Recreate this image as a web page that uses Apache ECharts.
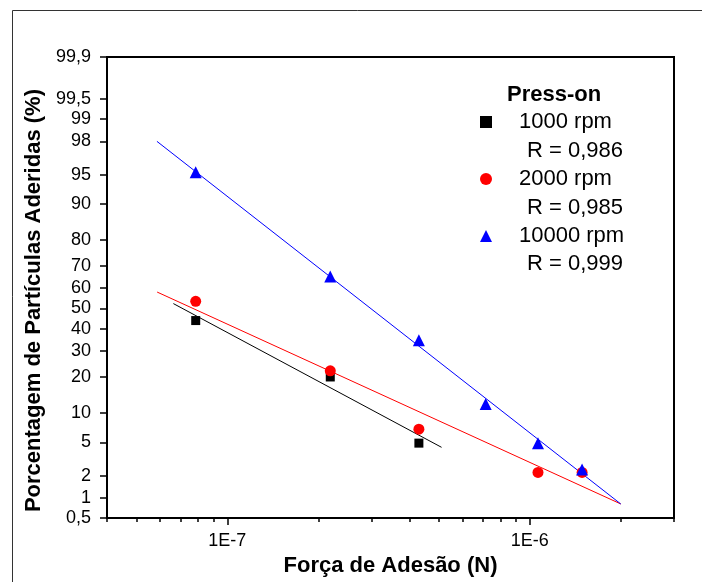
<!DOCTYPE html>
<html>
<head>
<meta charset="utf-8">
<script src="https://cdn.jsdelivr.net/npm/echarts@6/dist/echarts.min.js"></script>
<style>
  html, body { margin: 0; padding: 0; background: #fff; }
  #chart { width: 702px; height: 582px; }
</style>
</head>
<body>
<div id="chart"></div>
<script>
// Adhesion force (N) against percentage of adhered particles (%), press-on method
const force1000 = [7.86e-8, 2.19e-7, 4.30e-7];
const pct1000 = [44.1, 20.0, 4.9];
const force2000 = [7.86e-8, 2.19e-7, 4.30e-7, 1.065e-6, 1.49e-6];
const pct2000 = [53.5, 22.2, 6.9, 2.2, 2.2];
const force10000 = [7.86e-8, 2.19e-7, 4.30e-7, 7.15e-7, 1.065e-6, 1.49e-6];
const pct10000 = [95.3, 65.3, 34.8, 12.0, 4.9, 2.4];

// Fitted lines, end points
const fitForce1000 = [6.63e-8, 5.11e-7];
const fitPct1000 = [52.4, 4.4];
const fitForce2000 = [5.86e-8, 2.0e-6];
const fitPct2000 = [58.0, 0.815];
const fitForce10000 = [5.85e-8, 2.0e-6];
const fitPct10000 = [98.0, 0.815];

const seriesNames = ['1000 rpm', '2000 rpm', '10000 rpm'];
const rTexts = ['R = 0,986', 'R = 0,985', 'R = 0,999'];

const yTickValues = [0.5, 1, 2, 5, 10, 20, 30, 40, 50, 60, 70, 80, 90, 95, 98, 99, 99.5, 99.9];
const yTickLabels = ['0,5', '1', '2', '5', '10', '20', '30', '40', '50', '60', '70', '80', '90', '95', '98', '99', '99,5', '99,9'];
const xMajorTicks = [1e-7, 1e-6];
const xMinorTicks = [4e-8, 5e-8, 6e-8, 7e-8, 8e-8, 9e-8,
  2e-7, 3e-7, 4e-7, 5e-7, 6e-7, 7e-7, 8e-7, 9e-7, 2e-6, 3e-6];

// Inverse standard normal CDF (Acklam) for the probability axis
function probit(p) {
  const a = [-3.969683028665376e+01, 2.209460984245205e+02, -2.759285104469687e+02,
    1.383577518672690e+02, -3.066479806614716e+01, 2.506628277459239e+00];
  const b = [-5.447609879822406e+01, 1.615858368580409e+02, -1.556989798598866e+02,
    6.680131188771972e+01, -1.328068155288572e+01];
  const c = [-7.784894002430293e-03, -3.223964580411365e-01, -2.400758277161838e+00,
    -2.549732539343734e+00, 4.374664141464968e+00, 2.938163982698783e+00];
  const d = [7.784695709041462e-03, 3.224671290700398e-01, 2.445134137142996e+00,
    3.754408661907416e+00];
  const pl = 0.02425, ph = 1 - pl;
  let q, r;
  if (p < pl) {
    q = Math.sqrt(-2 * Math.log(p));
    return (((((c[0] * q + c[1]) * q + c[2]) * q + c[3]) * q + c[4]) * q + c[5]) /
      ((((d[0] * q + d[1]) * q + d[2]) * q + d[3]) * q + 1);
  }
  if (p <= ph) {
    q = p - 0.5; r = q * q;
    return (((((a[0] * r + a[1]) * r + a[2]) * r + a[3]) * r + a[4]) * r + a[5]) * q /
      (((((b[0] * r + b[1]) * r + b[2]) * r + b[3]) * r + b[4]) * r + 1);
  }
  q = Math.sqrt(-2 * Math.log(1 - p));
  return -(((((c[0] * q + c[1]) * q + c[2]) * q + c[3]) * q + c[4]) * q + c[5]) /
    ((((d[0] * q + d[1]) * q + d[2]) * q + d[3]) * q + 1);
}
const zOf = pct => probit(pct / 100);
const pairs = (xs, ys) => xs.map((x, i) => [x, zOf(ys[i])]);
const yTickZ = yTickValues.map(zOf);

const FONT = "'Liberation Sans', Arial, sans-serif";
const chart = echarts.init(document.getElementById('chart'), null, { renderer: 'canvas' });

const fitLine = (name, xs, ys, color) => ({
  name, type: 'line', xAxisIndex: 0, data: pairs(xs, ys),
  symbol: 'none', silent: true, z: 1,
  lineStyle: { color, width: 1 }
});
const scatter = (name, xs, ys, color, symbol, size) => ({
  name, type: 'scatter', xAxisIndex: 0, data: pairs(xs, ys),
  symbol, symbolSize: size, z: 3,
  itemStyle: { color, opacity: 1 }
});

chart.setOption({
  animation: false,
  backgroundColor: '#fff',
  textStyle: { fontFamily: FONT },
  grid: {
    left: 107, right: 28, top: 57, bottom: 62,
    show: true, borderColor: '#000', borderWidth: 2, backgroundColor: 'transparent'
  },
  xAxis: [{
    type: 'log', logBase: 10, min: 4e-8, max: 3e-6, position: 'bottom',
    axisLine: { show: true, onZero: false, lineStyle: { color: '#000', width: 2 } },
    axisTick: { show: true, customValues: xMinorTicks, length: 4, lineStyle: { color: '#000', width: 1.5 } },
    axisLabel: { show: false },
    splitLine: { show: false }
  }, {
    type: 'log', logBase: 10, min: 4e-8, max: 3e-6, position: 'bottom', offset: 0,
    axisLine: { show: false, onZero: false },
    axisTick: { show: true, customValues: xMajorTicks, length: 7, lineStyle: { color: '#000', width: 1.5 } },
    axisLabel: {
      show: true, customValues: xMajorTicks, margin: 14,
      fontSize: 18, color: '#000', fontFamily: FONT,
      formatter: v => '1E' + Math.round(Math.log10(v))
    },
    splitLine: { show: false },
    name: 'Força de Adesão (N)', nameLocation: 'middle', nameGap: 19,
    nameTextStyle: { fontSize: 22, fontWeight: 'bold', color: '#000', fontFamily: FONT }
  }],
  yAxis: {
    type: 'value', min: zOf(0.5), max: zOf(99.9),
    axisLine: { show: true, onZero: false, lineStyle: { color: '#000', width: 2 } },
    axisTick: { show: true, customValues: yTickZ, length: 7, lineStyle: { color: '#000', width: 1.5 } },
    axisLabel: {
      show: true, customValues: yTickZ, margin: 16,
      fontSize: 18, color: '#000', fontFamily: FONT,
      formatter: v => {
        let best = 0;
        yTickZ.forEach((t, i) => { if (Math.abs(t - v) < Math.abs(yTickZ[best] - v)) best = i; });
        return yTickLabels[best];
      }
    },
    splitLine: { show: false },
    name: 'Porcentagem de Partículas Aderidas (%)', nameLocation: 'middle', nameGap: 50,
    nameRotate: 90,
    nameTextStyle: { fontSize: 22, fontWeight: 'bold', color: '#000', fontFamily: FONT, padding: [0, 26, 0, 0] }
  },
  legend: {
    orient: 'vertical', left: 480, top: 107.5, padding: 0,
    itemGap: 28, itemWidth: 12, itemHeight: 12,
    textStyle: { fontSize: 22, lineHeight: 29, color: '#000', fontFamily: FONT, padding: [0, 0, 0, 22] },
    data: [
      { name: seriesNames[0], icon: 'rect' },
      { name: seriesNames[1], icon: 'circle' },
      { name: seriesNames[2], icon: 'triangle' }
    ],
    selectedMode: false
  },
  graphic: [
    { type: 'rect', shape: { x: 12.5, y: 10.5, width: 800, height: 800 }, silent: true,
      style: { fill: 'none', stroke: '#333', lineWidth: 1 } },
    { type: 'text', x: 507, y: 94.5, silent: true,
      style: { text: 'Press-on', font: "bold 22px 'Liberation Sans', Arial, sans-serif", fill: '#000', verticalAlign: 'middle' } },
    { type: 'text', x: 527, y: 151, silent: true,
      style: { text: rTexts[0], font: "22px 'Liberation Sans', Arial, sans-serif", fill: '#000', verticalAlign: 'middle' } },
    { type: 'text', x: 527, y: 207.5, silent: true,
      style: { text: rTexts[1], font: "22px 'Liberation Sans', Arial, sans-serif", fill: '#000', verticalAlign: 'middle' } },
    { type: 'text', x: 527, y: 264, silent: true,
      style: { text: rTexts[2], font: "22px 'Liberation Sans', Arial, sans-serif", fill: '#000', verticalAlign: 'middle' } }
  ],
  series: [
    fitLine('fit 1000', fitForce1000, fitPct1000, '#000'),
    fitLine('fit 2000', fitForce2000, fitPct2000, '#ff0000'),
    fitLine('fit 10000', fitForce10000, fitPct10000, '#0000ff'),
    scatter(seriesNames[0], force1000, pct1000, '#000', 'rect', 9),
    scatter(seriesNames[1], force2000, pct2000, '#ff0000', 'circle', 11),
    scatter(seriesNames[2], force10000, pct10000, '#0000ff', 'triangle', 12)
  ]
});
</script>
</body>
</html>
